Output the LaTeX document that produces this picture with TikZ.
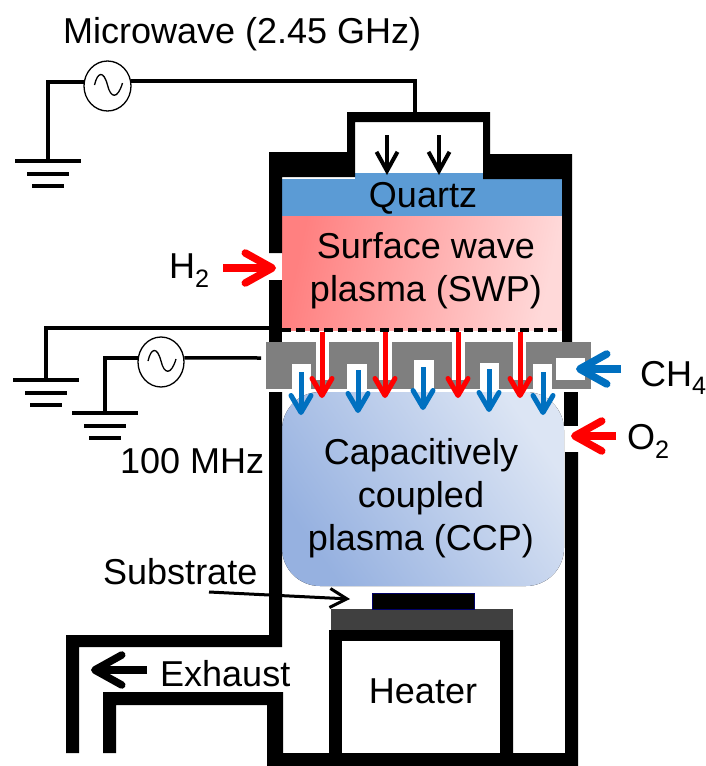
\documentclass[tikz,border=0pt]{standalone}
\usepackage{fontspec}
\setmainfont{Liberation Sans}
\usetikzlibrary{arrows.meta,shapes.geometric}
\definecolor{quartzblue}{HTML}{5B9BD5}
\definecolor{gasblue}{HTML}{0070C0}
\definecolor{electrodegray}{HTML}{7F7F7F}
\definecolor{stagegray}{HTML}{404040}
\definecolor{swpleft}{HTML}{FF8080}
\definecolor{swpright}{HTML}{FFD9D9}
\definecolor{ccpleft}{HTML}{96B1E0}
\definecolor{ccpright}{HTML}{DCE5F4}
\tikzset{
  wall/.style={fill=black,draw=none},
  wire/.style={line width=3.5pt},
  label/.style={inner sep=0pt,font=\fontsize{36}{36}\selectfont},
  source/.style={draw,ellipse,line width=1.3pt,inner sep=0pt,fill=white},
  slot/.style={fill=white,draw=none},
  smallflow/.style={line width=5pt,-{Straight Barb[length=17pt,width=20pt,round]}},
  bigflow/.style={line width=7.5pt,-{Straight Barb[length=27pt,width=30pt,round]}},
  neckflow/.style={line width=4pt,-{Straight Barb[length=19pt,width=21pt]}},
  thinflow/.style={line width=3pt,-{Straight Barb[length=17pt,width=19pt]}},
}
\newcommand{\groundbars}[1]{
  \foreach \dy/\hw in {0/33,13/21,25/16}
    \draw[wire,shift={(#1)}] (-\hw,\dy) -- (\hw,\dy);
}
\newcommand{\sinewave}[1]{
  \draw[line width=1.3pt,shift={(#1.center)}] (-13,-1) .. controls (-10,-14) and (-4,-16) .. (0,-1) .. controls (3,12) and (10,14) .. (15,-3);
}
\begin{document}
\begin{tikzpicture}[x=1pt,y=-1pt]
\useasboundingbox (0,0) rectangle (705,766);
% plasma regions
\fill[left color=swpleft,right color=swpright,shading angle=78] (282,216) rectangle (563,330);
\fill[left color=ccpleft,right color=ccpright,shading angle=125,rounded corners=38pt] (282,392) rectangle (564,586);
\fill[quartzblue] (282,179) rectangle (563,216);
\fill[quartzblue] (355,173) rectangle (483,179);
% chamber walls
\fill[wall] (269,152) -- (347,152) -- (347,112) -- (490,112) -- (490,154) -- (572,154) -- (572,342) -- (562,342) -- (562,179) -- (483,179) -- (483,122) -- (355,122) -- (355,177) -- (282,177) -- (282,253) -- (269,253) -- cycle;
\fill[wall] (269,280) rectangle (282,342);
\fill[wall] (564,392) rectangle (578,426);
\fill[wall] (269,392) -- (282,392) -- (282,647) -- (79,647) -- (79,753) -- (66,753) -- (66,635) -- (269,635) -- cycle;
\fill[wall] (103,753) -- (103,692) -- (283,692) -- (283,753) -- (329,753) -- (329,630) -- (513,630) -- (513,753) -- (565,753) -- (565,452) -- (578,452) -- (578,766) -- (267,766) -- (267,705) -- (116,705) -- (116,753) -- cycle;
\fill[slot] (342,641) rectangle (500,753);
% stage and substrate
\fill[stagegray] (331,609) rectangle (513,630);
\draw[fill=black,draw=blue!40!black,line width=1pt] (372,593) rectangle (474,609);
% electrode with its slots
\fill[electrodegray] (266,342) rectangle (591,389);
\foreach \xa/\xb/\ya in {292/311/364,347/367/364,414/434/360,480/499/363,533/552/364}
  \fill[slot] (\xa,\ya) rectangle (\xb,389);
\foreach \xa in {316,379,452,513}
  \fill[slot] (\xa,342) rectangle (\xa+13,380);
\fill[slot] (556,358) rectangle (585,380);
\draw[line width=4pt,dash pattern=on 9pt off 5pt] (282,330) -- (562,330);
% gas flows
\foreach \xa in {322,385,458,520}
  \draw[smallflow,red] (\xa,332) -- (\xa,398);
\foreach \xa/\ya in {301/372,358/370,423/367,489/369,543/372}
  \draw[smallflow,gasblue] (\xa,\ya) -- (\xa,\ya+43);
\foreach \xa in {387,439}
  \draw[neckflow] (\xa,135) -- (\xa,175);
\coordinate (h2tip) at (276,268);
\coordinate (ch4tip) at (576,369);
\coordinate (o2tip) at (571,436);
\coordinate (exhausttip) at (91,670);
\node[label,anchor=base west] (h2) at (169,278) {H\textsubscript{2}};
\node[label,anchor=base west] (ch4) at (640,386) {CH\textsubscript{4}};
\node[label,anchor=base west] (o2) at (627,449) {O\textsubscript{2}};
\draw[bigflow,red] (223,268) -- (h2tip);
\draw[bigflow,gasblue] (621,369) -- (ch4tip);
\draw[bigflow,red] (616,436) -- (o2tip);
\draw[bigflow,black] (147,670) -- (exhausttip);
% microwave circuit
\coordinate (gndmw) at (48,161);
\coordinate (neck) at (415,112);
\node[source,minimum width=47pt,minimum height=50pt] (mw) at (107.5,86) {};
\sinewave{mw}
\draw[wire] (mw.170) -| (gndmw);
\draw[wire] (mw.12) -| (neck);
\groundbars{gndmw}
% rf circuit
\coordinate (gndwall) at (46,380);
\coordinate (gndrf) at (105,413);
\coordinate (wallpt) at (270,328);
\coordinate (electrodept) at (261,358);
\node[source,minimum width=46pt,minimum height=50pt] (rf) at (161,362) {};
\sinewave{rf}
\draw[wire] (wallpt) -| (gndwall);
\draw[wire] (rf.170) -| (gndrf);
\draw[wire] (rf.10) -- (electrodept);
\groundbars{gndwall}
\groundbars{gndrf}
% labels
\node[label,anchor=base west] (mwlabel) at (63,43) {Microwave (2.45 GHz)};
\node[label,anchor=base] (quartz) at (423,207) {Quartz};
\node[label,anchor=base] (swpa) at (426,258) {Surface wave};
\node[label,anchor=base] (swpb) at (426,301) {plasma (SWP)};
\node[label,anchor=base west] (rflabel) at (120,473) {100 MHz};
\node[label,anchor=base] (ccpa) at (421,464) {Capacitively};
\node[label,anchor=base] (ccpb) at (421,507) {coupled};
\node[label,anchor=base] (ccpc) at (421,550) {plasma (CCP)};
\node[label,anchor=base west] (substrate) at (103,584) {Substrate};
\node[label,anchor=base west] (exhaust) at (160,686) {Exhaust};
\node[label,anchor=base] (heater) at (423,703) {Heater};
\coordinate (subtail) at (209,592);
\coordinate (subtip) at (350,599);
\draw[thinflow] (subtail) -- (subtip);
\end{tikzpicture}
\end{document}
